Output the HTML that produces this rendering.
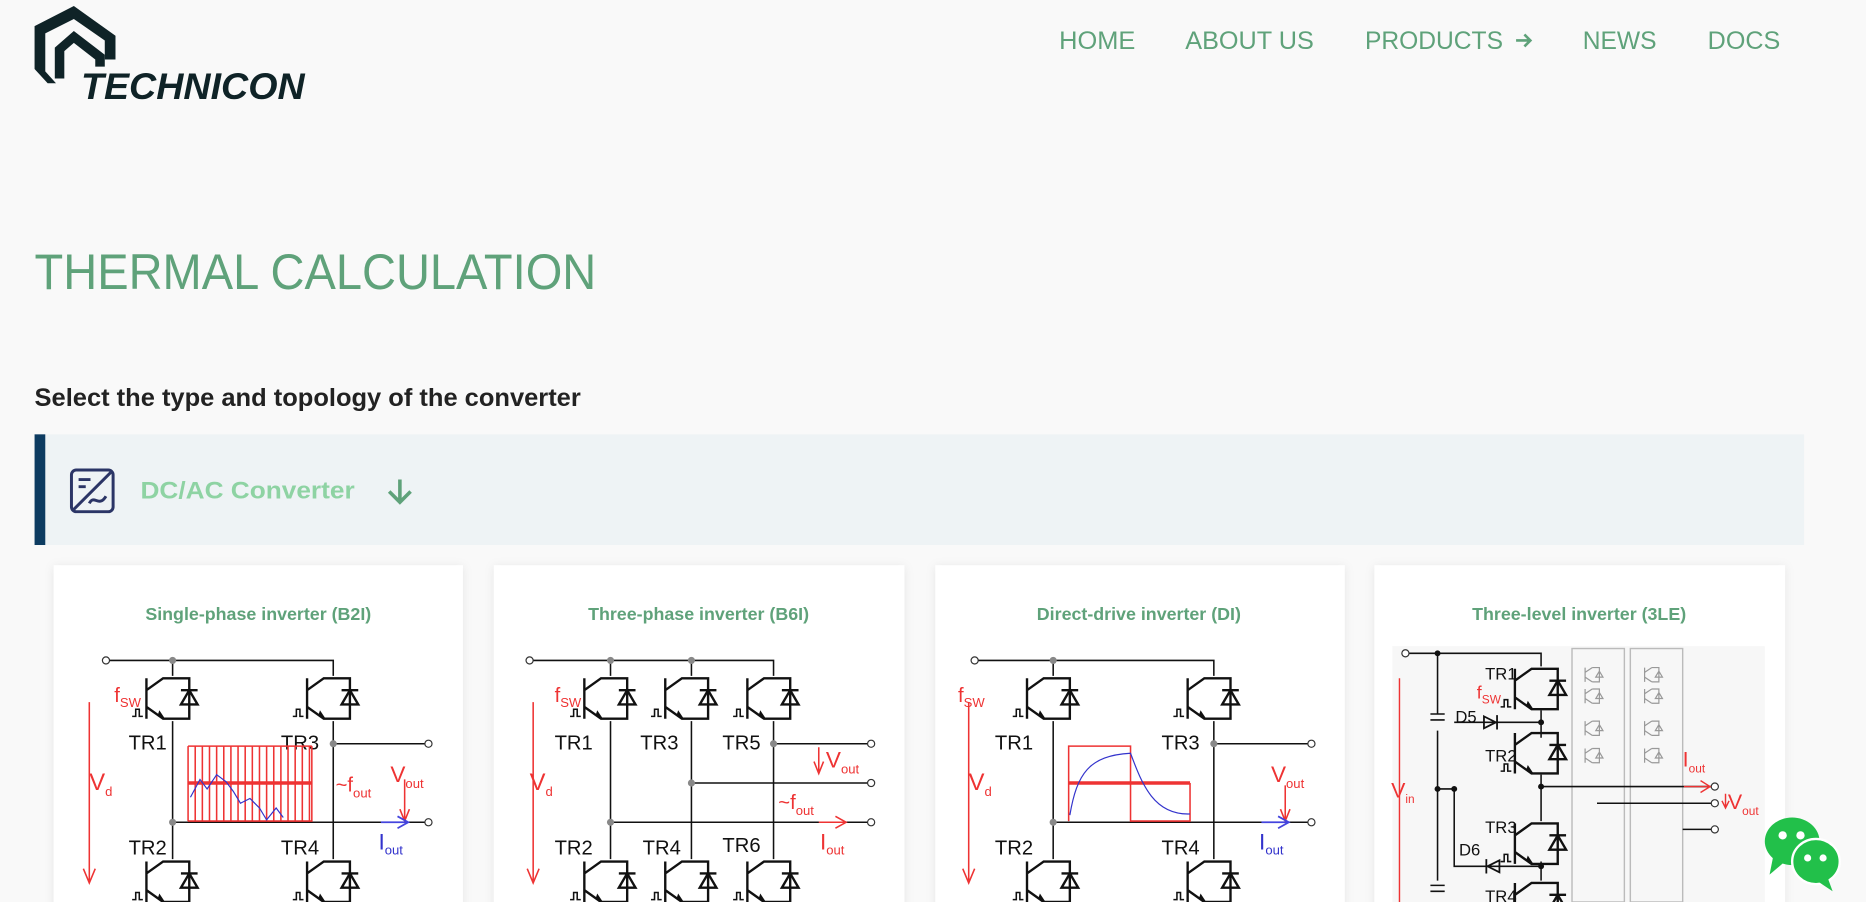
<!DOCTYPE html>
<html><head><meta charset="utf-8"><style>
html,body{margin:0;padding:0;background:#f9f9f9;overflow:hidden}
svg{display:block}
text{font-family:"Liberation Sans",Arial,sans-serif}
</style></head><body>
<svg width="1866" height="902" viewBox="0 0 1568 758" xmlns="http://www.w3.org/2000/svg">
<defs>
<filter id="sh" x="-10%" y="-10%" width="120%" height="120%"><feDropShadow dx="0" dy="1" stdDeviation="4" flood-color="#000" flood-opacity="0.08"/></filter>
<g id="t" stroke="#111" stroke-width="2" fill="none">
<path d="M-22 2V36 M-22 12 L-8 2 H0 M-22 26 L-8 36 H0 M0 2H14V36H0"/>
<path d="M7 24H21L14 12Z M7 12H21"/>
<path d="M-12 33 L-7 36 L-11 30Z" fill="#111" stroke-width="1"/>
<path d="M-34 34h3v-6h3v6h3" stroke-width="1.3"/>
</g>
<g id="ts" stroke="#999" stroke-width="1" fill="none">
<path d="M-8 1V13 M-8 5L-2 1 M-8 9L-2 13 M-2 1H4V13H-2 M1 9L4 4L7 9Z"/>
</g>
</defs>

<!-- Logo -->
<g fill="#0f2327">
<path d="M29 22 L62 5 L97 30 L97 50 L88 50 L88 34 L62 16 L38 28 L38 60 L47 70 L40 70 L29 58Z"/>
<path d="M46 40 L62 26 L88 46 L88 56 L80 56 L80 50 L62 36 L54 43 L54 66 L46 66Z"/>
</g>
<text x="68" y="83" font-size="31" font-weight="bold" font-style="italic" fill="#0f2327" textLength="188" lengthAdjust="spacingAndGlyphs">TECHNICON</text>

<!-- Nav -->
<g fill="#5fa27a" font-size="21">
<text x="890" y="41" textLength="64" lengthAdjust="spacingAndGlyphs">HOME</text>
<text x="996" y="41" textLength="108" lengthAdjust="spacingAndGlyphs">ABOUT US</text>
<text x="1147" y="41" textLength="116" lengthAdjust="spacingAndGlyphs">PRODUCTS</text>
<text x="1330" y="41" textLength="62" lengthAdjust="spacingAndGlyphs">NEWS</text>
<text x="1435" y="41" textLength="61" lengthAdjust="spacingAndGlyphs">DOCS</text>
</g>
<path d="M1274 34H1286M1281 29L1286 34L1281 39" stroke="#5fa27a" stroke-width="2.2" fill="none"/>

<text x="29" y="243" font-size="42" fill="#5fa27a" textLength="472" lengthAdjust="spacingAndGlyphs">THERMAL CALCULATION</text>
<text x="29" y="341" font-size="21" font-weight="bold" fill="#222" textLength="459" lengthAdjust="spacingAndGlyphs">Select the type and topology of the converter</text>

<!-- Converter bar -->
<rect x="29" y="365" width="1487" height="93" fill="#eef3f5"/>
<rect x="29" y="365" width="9" height="93" fill="#0d3c61"/>
<g stroke="#2b3566" stroke-width="2.5" fill="none">
<rect x="60" y="395" width="35" height="35" rx="4"/>
<path d="M62 428L93 397"/>
<path d="M66 403h10M66 409h6M66 409" />
<path d="M75 423c4-8 8 4 14-6"/>
</g>
<text x="118" y="419" font-size="20" font-weight="bold" fill="#8ed3a3" textLength="180" lengthAdjust="spacingAndGlyphs">DC/AC Converter</text>
<path d="M336 403V421M327 413L336 422L345 413" stroke="#5fa27a" stroke-width="3" fill="none"/>

<!-- Cards -->
<g fill="#fff" filter="url(#sh)">
<rect x="45" y="475" width="344" height="300"/>
<rect x="415" y="475" width="345" height="300"/>
<rect x="786" y="475" width="344" height="300"/>
<rect x="1155" y="475" width="345" height="300"/>
</g>
<g font-size="15" font-weight="bold" fill="#5fa27a" text-anchor="middle">
<text x="217" y="521">Single-phase inverter (B2I)</text>
<text x="587" y="521">Three-phase inverter (B6I)</text>
<text x="957" y="521">Direct-drive inverter (DI)</text>
<text x="1327" y="521">Three-level inverter (3LE)</text>
</g>

<!-- Card 1 -->
<g stroke="#111" stroke-width="1.3" fill="none">
<path d="M91 555H280V568 M145 555V568 M145 606V722 M280 606V722 M280 625H358 M145 691H358"/>
</g>
<g fill="#888"><circle cx="145" cy="555" r="3"/><circle cx="145" cy="691" r="3"/><circle cx="280" cy="625" r="3"/></g>
<g fill="#fff" stroke="#333"><circle cx="89" cy="555" r="3"/><circle cx="360" cy="625" r="3"/><circle cx="360" cy="691" r="3"/></g>
<use href="#t" x="145" y="568"/><use href="#t" x="280" y="568"/><use href="#t" x="145" y="722"/><use href="#t" x="280" y="722"/>
<g font-size="17" fill="#111"><text x="108" y="630">TR1</text><text x="236" y="630">TR3</text><text x="108" y="718">TR2</text><text x="236" y="718">TR4</text></g>
<g stroke="#e33" stroke-width="1.3" fill="none">
<path d="M75 590V740M70 730L75 742L80 730"/>
<path d="M158 627V690M158 690H262V627 M164 627V690M170 627V690M176 627V690M182 627V690M188 627V690M194 627V690M200 627V690M206 627V690M212 627V690M218 627V690M224 627V690M230 627V690M236 627V690M242 627V690M248 627V690M254 627V690M260 627V690 M158 627H262"/>
<path d="M158 658H262" stroke-width="3"/>
<path d="M340 655V690M336 680L340 690L344 680"/>
</g>
<path d="M160 670l8-15 6 8 8-12 8 6 6 8 6 10 8-4 8 8 6 10 8-10 6 8" stroke="#33c" stroke-width="1" fill="none"/>
<path d="M320 691H342M334 686L343 691L334 696" stroke="#44d" stroke-width="1.5" fill="none"/>
<g fill="#e33"><text x="96" y="590" font-size="17">f<tspan font-size="11" dy="4">SW</tspan></text>
<text x="75" y="664" font-size="20">V<tspan font-size="11" dy="5">d</tspan></text>
<text x="282" y="665" font-size="17">~f<tspan font-size="11" dy="5">out</tspan></text>
<text x="328" y="657" font-size="19">V<tspan font-size="11" dy="5">out</tspan></text></g>
<text x="318" y="714" font-size="19" fill="#33c">I<tspan font-size="11" dy="4">out</tspan></text>

<!-- Card 2 -->
<g stroke="#111" stroke-width="1.3" fill="none">
<path d="M447 555H650V568 M513 555V568 M581 555V568 M513 606V722 M581 606V722 M650 606V722 M650 625H730 M581 658H730 M513 691H730"/>
</g>
<g fill="#888"><circle cx="513" cy="555" r="3"/><circle cx="581" cy="555" r="3"/><circle cx="513" cy="691" r="3"/><circle cx="581" cy="658" r="3"/><circle cx="650" cy="625" r="3"/></g>
<g fill="#fff" stroke="#333"><circle cx="445" cy="555" r="3"/><circle cx="732" cy="625" r="3"/><circle cx="732" cy="658" r="3"/><circle cx="732" cy="691" r="3"/></g>
<use href="#t" x="513" y="568"/><use href="#t" x="581" y="568"/><use href="#t" x="650" y="568"/>
<use href="#t" x="513" y="722"/><use href="#t" x="581" y="722"/><use href="#t" x="650" y="722"/>
<g font-size="17" fill="#111"><text x="466" y="630">TR1</text><text x="538" y="630">TR3</text><text x="607" y="630">TR5</text><text x="466" y="718">TR2</text><text x="540" y="718">TR4</text><text x="607" y="716">TR6</text></g>
<g stroke="#e33" stroke-width="1.3" fill="none">
<path d="M448 590V740M443 730L448 742L453 730"/>
<path d="M688 628V648M684 640L688 650L692 640"/>
<path d="M688 691H710M702 686L711 691L702 696"/>
</g>
<g fill="#e33"><text x="466" y="590" font-size="17">f<tspan font-size="11" dy="4">SW</tspan></text>
<text x="445" y="664" font-size="20">V<tspan font-size="11" dy="5">d</tspan></text>
<text x="654" y="680" font-size="17">~f<tspan font-size="11" dy="5">out</tspan></text>
<text x="694" y="645" font-size="19">V<tspan font-size="11" dy="5">out</tspan></text>
<text x="689" y="714" font-size="19">I<tspan font-size="11" dy="4">out</tspan></text></g>

<!-- Card 3 -->
<g stroke="#111" stroke-width="1.3" fill="none">
<path d="M821 555H1020V568 M885 555V568 M885 606V722 M1020 606V722 M1020 625H1100 M885 691H1100"/>
</g>
<g fill="#888"><circle cx="885" cy="555" r="3"/><circle cx="885" cy="691" r="3"/><circle cx="1020" cy="625" r="3"/></g>
<g fill="#fff" stroke="#333"><circle cx="819" cy="555" r="3"/><circle cx="1102" cy="625" r="3"/><circle cx="1102" cy="691" r="3"/></g>
<use href="#t" x="885" y="568"/><use href="#t" x="1020" y="568"/><use href="#t" x="885" y="722"/><use href="#t" x="1020" y="722"/>
<g font-size="17" fill="#111"><text x="836" y="630">TR1</text><text x="976" y="630">TR3</text><text x="836" y="718">TR2</text><text x="976" y="718">TR4</text></g>
<g stroke="#e33" stroke-width="1.3" fill="none">
<path d="M814 590V740M809 730L814 742L819 730"/>
<path d="M898 690V627H950V690H1000V658 M898 658H1000" />
<path d="M898 658H1000" stroke-width="3"/>
<path d="M1080 660V690M1076 680L1080 690L1084 680"/>
</g>
<path d="M899 685C905 650 915 635 950 633C960 660 970 685 1000 684" stroke="#33c" stroke-width="1" fill="none"/>
<path d="M1060 691H1082M1074 686L1083 691L1074 696" stroke="#44d" stroke-width="1.5" fill="none"/>
<g fill="#e33"><text x="805" y="590" font-size="17">f<tspan font-size="11" dy="4">SW</tspan></text>
<text x="814" y="664" font-size="20">V<tspan font-size="11" dy="5">d</tspan></text>
<text x="1068" y="657" font-size="19">V<tspan font-size="11" dy="5">out</tspan></text></g>
<text x="1058" y="714" font-size="19" fill="#33c">I<tspan font-size="11" dy="4">out</tspan></text>

<!-- Card 4 -->
<rect x="1170" y="543" width="313" height="215" fill="#f7f7f7"/>
<g stroke="#bbb" stroke-width="1.2" fill="none"><rect x="1321" y="545" width="44" height="213"/><rect x="1370" y="545" width="44" height="213"/></g>
<use href="#ts" x="1340" y="560"/><use href="#ts" x="1340" y="578"/><use href="#ts" x="1340" y="605"/><use href="#ts" x="1340" y="628"/>
<use href="#ts" x="1390" y="560"/><use href="#ts" x="1390" y="578"/><use href="#ts" x="1390" y="605"/><use href="#ts" x="1390" y="628"/>
<g stroke="#111" stroke-width="1.3" fill="none">
<path d="M1183 549H1295V560 M1208 549V600 M1208 614V740 M1202 600H1214M1202 605H1214 M1202 744H1214M1202 749H1214 M1208 663H1222V728H1295 M1222 607H1295 M1295 597V620 M1295 651V690 M1295 724V740 M1295 661H1440 M1342 675H1440 M1414 697H1440"/>
</g>
<g fill="#111"><circle cx="1208" cy="549" r="2.5"/><circle cx="1208" cy="663" r="2.5"/><circle cx="1222" cy="663" r="2.5"/><circle cx="1295" cy="607" r="2.5"/><circle cx="1295" cy="661" r="2.5"/><circle cx="1295" cy="728" r="2.5"/></g>
<g fill="#fff" stroke="#333"><circle cx="1181" cy="549" r="3"/><circle cx="1441" cy="661" r="3"/><circle cx="1441" cy="675" r="3"/><circle cx="1441" cy="697" r="3"/></g>
<g stroke="#111" stroke-width="1.5" fill="none"><path d="M1247 602L1257 607L1247 612Z M1258 601V613 M1260 723L1250 728L1260 733Z M1249 722V734"/></g>
<use href="#t" x="1295" y="560"/><use href="#t" x="1295" y="614"/><use href="#t" x="1295" y="690"/><use href="#t" x="1295" y="740"/>
<g font-size="14" fill="#111"><text x="1248" y="571">TR1</text><text x="1248" y="640">TR2</text><text x="1248" y="700">TR3</text><text x="1248" y="758">TR4</text><text x="1223" y="607">D5</text><text x="1226" y="719">D6</text></g>
<g stroke="#e33" stroke-width="1.2" fill="none"><path d="M1176 570V758 M1415 661H1437M1429 656L1437 661L1429 666 M1450 667V678M1447 673L1450 679L1453 673"/></g>
<g fill="#e33"><text x="1241" y="587" font-size="15">f<tspan font-size="10" dy="4">SW</tspan></text>
<text x="1169" y="670" font-size="18">V<tspan font-size="10" dy="5">in</tspan></text>
<text x="1414" y="644" font-size="18">I<tspan font-size="10" dy="5">out</tspan></text>
<text x="1452" y="680" font-size="18">V<tspan font-size="10" dy="5">out</tspan></text></g>

<!-- WeChat -->
<g fill="#22c04a">
<ellipse cx="1506" cy="707" rx="23" ry="20"/><path d="M1490 720L1487 735L1500 724Z"/>
</g>
<g fill="#22c04a" stroke="#fff" stroke-width="2"><ellipse cx="1526" cy="724" rx="20" ry="19"/></g>
<path d="M1536 738L1540 749L1528 741Z" fill="#22c04a"/>
<g fill="#fff"><circle cx="1498" cy="702" r="3.5"/><circle cx="1513" cy="702" r="3.5"/><circle cx="1519" cy="721" r="3"/><circle cx="1532" cy="721" r="3"/></g>
</svg>
</body></html>
